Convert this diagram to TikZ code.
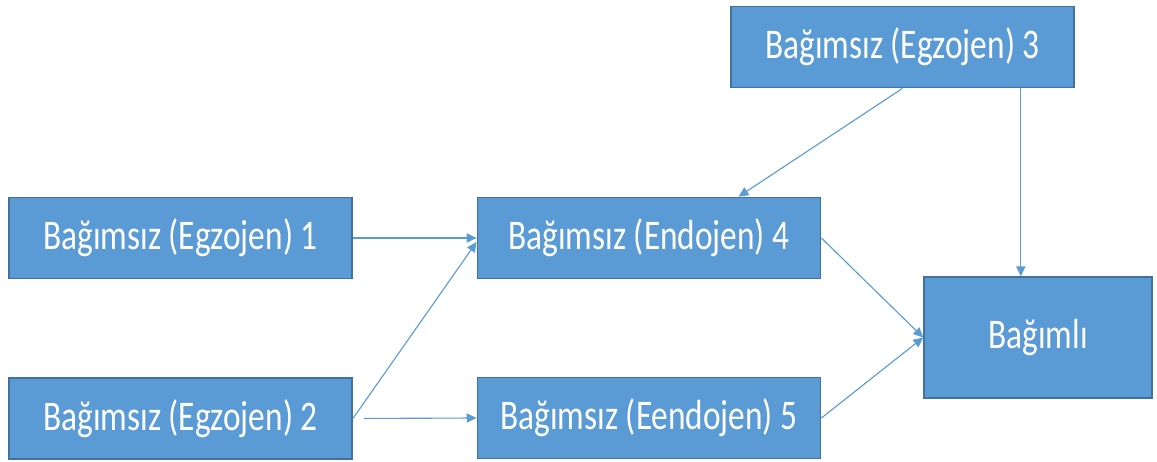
\documentclass[tikz,border=0pt]{standalone}
\usepackage{fontspec}
\setmainfont{Carlito}[FakeStretch=0.79]
\usetikzlibrary{arrows.meta,calc,positioning}

\definecolor{boxfill}{HTML}{5B9BD5}
\definecolor{boxline}{HTML}{41719C}

\begin{document}
\begin{tikzpicture}[x=0.025cm, y=-0.025cm,
  var/.style={draw=boxline, line width=1.1pt, fill=boxfill, text=white,
              font=\fontsize{30}{36}\selectfont,
              minimum width=8.58cm, minimum height=2.03cm, inner sep=0pt},
  link/.style={draw=boxfill, line width=0.8pt, -{Triangle[length=7pt,width=6.5pt]}}]

\useasboundingbox (0,0) rectangle (1157,461);

\node[var] (e3) at (902.5,47) {Bağımsız (Egzojen) 3};
\node[var] (e1) at (180.5,238) {Bağımsız (Egzojen) 1};
\node[var] (n4) at (649,238) {Bağımsız (Endojen) 4};
\node[var] (e2) at (180.5,418.5) {Bağımsız (Egzojen) 2};
\node[var] (n5) at (649,418) {Bağımsız (Eendojen) 5};
\node[var, minimum width=5.7cm, minimum height=3.02cm] (dep) at (1038,337.5) {Bağımlı};

\coordinate (t4) at ($(n4.north west)!0.76!(n4.north east)$);
\coordinate (t3) at ([xshift=-0.43cm]dep.north);

\draw[link] (e1.east) -- (n4.west);
\draw[link] (e2.east) -- ([yshift=-0.1cm]n4.west);
\draw[link, shorten <=8pt] (e2.east) -- (n5.west);
\draw[link] (e3.south) -- (t4);
\draw[link] (t3 |- e3.south) -- (t3);
\draw[link] (n4.east) -- (dep.west);
\draw[link] (n5.east) -- (dep.west);
\end{tikzpicture}
\end{document}
